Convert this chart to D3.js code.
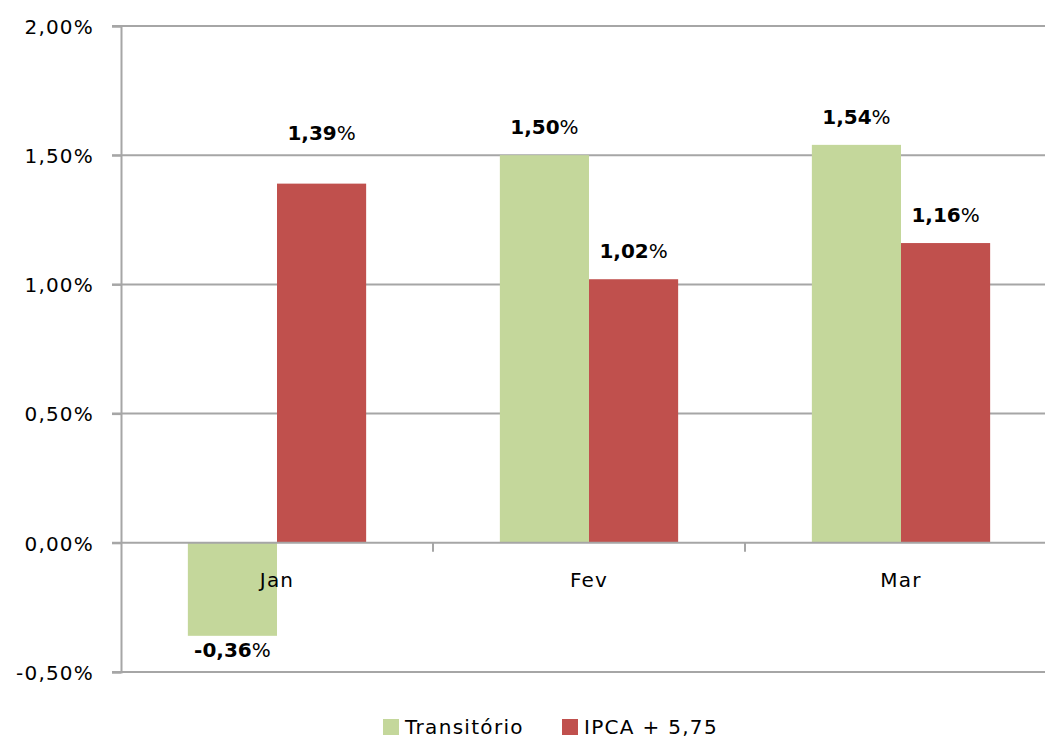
<!DOCTYPE html>
<html>
<head>
<meta charset="UTF-8">
<title>Transitório x IPCA + 5,75</title>
<script src="https://cdn.jsdelivr.net/npm/d3@7"></script>
<style>
    body { margin: 0; background: #fff; }
    text { font-family: "DejaVu Sans", Verdana, sans-serif; fill: #000; }
</style>
</head>
<body>
<svg id="chart" width="1045" height="739"></svg>
<script>
// data
var categories = ["Jan", "Fev", "Mar"];
var series = ["Transitório", "IPCA + 5,75"];
var transitorio = [-0.36, 1.50, 1.54];
var ipca = [1.39, 1.02, 1.16];
var yTicks = [-0.5, 0, 0.5, 1.0, 1.5, 2.0];
var colors = ["#c4d79b", "#c0504d"];

var svg = d3.select("#chart");
var plotL = 121, plotR = 1057, plotT = 26, plotB = 672;

var x0 = d3.scaleBand().domain(categories).range([plotL, plotR]);
// excel gap width 150%: two bars + 1.5 bar of gap per category
var bw = x0.bandwidth() / 3.5;
var x1 = d3.scaleBand().domain(series).range([bw * 0.75, bw * 2.75]);
var y = d3.scaleLinear().domain([-0.5, 2.0]).range([plotB, plotT]);

// pt-BR style: comma decimal, plain hyphen for minus
var fmt = function (v) { return d3.format(".2f")(v).replace(".", ",").replace("\u2212", "-"); };

// gridlines
svg.append("g").selectAll("line").data(yTicks.filter(function (d) { return d !== 0; }))
    .enter().append("line")
    .attr("x1", plotL - 9).attr("x2", 1045)
    .attr("y1", function (d) { return y(d); }).attr("y2", function (d) { return y(d); })
    .attr("stroke", "#a6a6a6").attr("stroke-width", 2);

// y axis
var yAxis = d3.axisLeft(y).tickValues(yTicks).tickSize(9).tickPadding(18)
    .tickFormat(function (d) { return fmt(d) + "%"; });
var ga = svg.append("g").attr("transform", "translate(" + plotL + ",0)").call(yAxis);
ga.select(".domain").attr("stroke", "#a6a6a6").attr("stroke-width", 2);
ga.selectAll(".tick line").attr("stroke", "#a6a6a6").attr("stroke-width", 2);
ga.selectAll(".tick text").attr("font-size", 20).attr("font-family", "DejaVu Sans, Verdana, sans-serif")
    .attr("letter-spacing", 1.2).attr("fill", "#000").attr("dy", "0.36em");

// bars
var rows = categories.map(function (c, i) {
    return { cat: c, vals: [{ s: series[0], v: transitorio[i], k: 0 }, { s: series[1], v: ipca[i], k: 1 }] };
});
var grp = svg.append("g").selectAll("g").data(rows).enter().append("g")
    .attr("transform", function (d) { return "translate(" + x0(d.cat) + ",0)"; });

grp.selectAll("rect").data(function (d) { return d.vals; }).enter().append("rect")
    .attr("x", function (d) { return x1(d.s); })
    .attr("width", x1.bandwidth())
    .attr("y", function (d) { return y(Math.max(0, d.v)); })
    .attr("height", function (d) { return Math.abs(y(d.v) - y(0)); })
    .attr("fill", function (d) { return colors[d.k]; });

// category axis on the zero line
var xAxis = d3.axisBottom(x0).tickSize(0).tickPadding(0);
var gx = svg.append("g").attr("transform", "translate(0," + y(0) + ")").call(xAxis);
gx.select(".domain").attr("stroke", "#a6a6a6").attr("stroke-width", 2)
    .attr("d", "M" + (plotL - 9) + ",0H1045");
gx.selectAll(".tick text").attr("font-size", 20).attr("font-family", "DejaVu Sans, Verdana, sans-serif")
    .attr("letter-spacing", 1.2).attr("fill", "#000").attr("y", 44).attr("dy", 0);
// boundary ticks between categories
gx.selectAll("line.sep").data(categories.slice(1)).enter().append("line").attr("class", "sep")
    .attr("x1", function (d) { return x0(d); }).attr("x2", function (d) { return x0(d); })
    .attr("y1", 0).attr("y2", 9).attr("stroke", "#a6a6a6").attr("stroke-width", 2);

// value labels
var labels = grp.selectAll("text.lbl").data(function (d) { return d.vals.map(function (v) { v.cat = d.cat; return v; }); })
    .enter().append("text").attr("class", "lbl")
    .attr("text-anchor", "middle").attr("font-size", 20)
    .attr("x", function (d) { return x1(d.s) + x1.bandwidth() / 2; })
    .attr("y", function (d) {
        if (d.v < 0) return y(d.v) + 21;
        var off = (d.cat === "Jan" && d.k === 1) ? 44 : 21;  // this one sits higher in the original
        return y(d.v) - off;
    });
labels.append("tspan").attr("font-weight", "bold").text(function (d) { return fmt(d.v); });
labels.append("tspan").text("%");

// legend
var leg = svg.append("g");
var legX = [383, 562];
series.forEach(function (s, i) {
    leg.append("rect").attr("x", legX[i]).attr("y", 719).attr("width", 16).attr("height", 16).attr("fill", colors[i]);
    leg.append("text").attr("x", legX[i] + 22).attr("y", 734).attr("font-size", 20)
        .attr("letter-spacing", 1.3).text(s);
});
</script>
</body>
</html>
